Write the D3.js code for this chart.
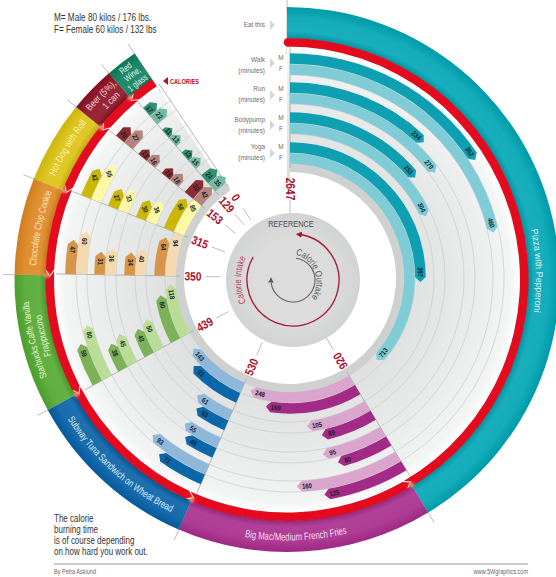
<!DOCTYPE html>
<html>
<head>
<meta charset="utf-8">
<script src="https://cdnjs.cloudflare.com/ajax/libs/d3/7.8.5/d3.min.js"></script>
<style>
  html, body { margin: 0; padding: 0; background: #fff; }
  svg { display: block; }
  text { font-family: 'Liberation Sans', sans-serif; }
</style>
</head>
<body>
<script>
const width = 556,
      height = 577

// data, minutes of exercise
const foods = ['Pizza with Pepperoni', 'Big Mac/Medium French Fries', 'Subway Tuna Sandwich on Wheat Bread',
  'Starbucks Caffe Vanilla Frappuccino', 'Chocolate Chip Cookie', 'Hot Dog with Roll', 'Beer (5%), 1 can', 'Red Wine, 1 glass']
const calories = [2647, 920, 530, 439, 350, 315, 153, 129]
const activities = ['Walk', 'Run', 'Bodypump', 'Yoga']
const walkMale = [352, 125, 71, 59, 47, 42, 20, 17]
const walkFemale = [460, 160, 93, 80, 60, 55, 27, 22]
const runMale = [234, 80, 46, 38, 31, 27, 13, 11]
const runFemale = [270, 95, 55, 45, 36, 33, 16, 13]
const bodypumpMale = [251, 89, 53, 43, 34, 30, 15, 13]
const bodypumpFemale = [304, 105, 61, 50, 40, 36, 18, 15]
const yogaMale = [397, 169, 93, 80, 64, 58, 32, 24]
const yogaFemale = [713, 248, 143, 118, 94, 85, 42, 35]
const minuteRows = [walkMale, walkFemale, runMale, runFemale, bodypumpMale, bodypumpFemale, yogaMale, yogaFemale]

const bandColors = ['#00a5b5', '#a82c8c', '#0560a6', '#52a82f', '#de861f', '#dcc20f', '#8d1022', '#0c7e5c']
const maleColors = ['#0e9fb2', '#a32a86', '#0a67aa', '#7db158', '#d89549', '#cdb706', '#8a2c30', '#2f9072']
const femaleColors = ['#7fccd6', '#d9a5cd', '#8fb7da', '#b9dd96', '#f5d9b1', '#fdf8a6', '#b5837b', '#72baa3']
const bandTextColors = ['#d6f1f3', '#f7dcef', '#dcebf7', '#e4f5d2', '#fde6c4', '#f9f0b0', '#f5d5d5', '#e0f5ec']

// ring and rows are not quite concentric in the original
const ringX = 287, ringY = 279.5
const rowX = 290, rowY = 278
const discX = 293, discY = 280, discR = 67

const rowInner = [214, 203, 185, 174, 155, 144, 125, 114]
const rowWidth = 11
const tipLength = 5

const spoke = d3.scaleOrdinal().domain(calories).range([0, 148.8, 203.4, 241.4, 271, 291.7, 309.3, 319.2])
const lastAngle = 326
const rad = d => d * Math.PI / 180

// minutes -> pixels along the bar, one scale per row
const lengthScales = [1.0, 1.0, 0.98, 0.98, 0.89, 0.89, 0.85, 0.66].map(k =>
  d3.scalePow().exponent(0.92).domain([0, 1]).range([0, k]))

const polar = (cx, cy, r, deg) => [cx + r * Math.sin(rad(deg)), cy - r * Math.cos(rad(deg))]

const svg = d3.select('body').append('svg')
  .attr('width', width)
  .attr('height', height)

const defs = svg.append('defs')
const arc = d3.arc()

let blur = defs.append('filter').attr('id', 'blur').attr('x', '-100%').attr('y', '-100%').attr('width', '300%').attr('height', '300%')
blur.append('feGaussianBlur').attr('stdDeviation', 1.4)

// both gradients sit on paths translated to the ring centre, so they start at 0,0
let bgGrad = defs.append('radialGradient').attr('id', 'bgGrad').attr('gradientUnits', 'userSpaceOnUse')
  .attr('cx', 0).attr('cy', 0).attr('r', 240)
bgGrad.append('stop').attr('offset', 0.45).attr('stop-color', '#dddede')
bgGrad.append('stop').attr('offset', 0.75).attr('stop-color', '#e9eaea')
bgGrad.append('stop').attr('offset', 0.93).attr('stop-color', '#f3f4f4')
bgGrad.append('stop').attr('offset', 0.97).attr('stop-color', '#ffffff')

let sheen = defs.append('radialGradient').attr('id', 'sheen').attr('gradientUnits', 'userSpaceOnUse')
  .attr('cx', 0).attr('cy', 0).attr('r', 272.5)
sheen.append('stop').attr('offset', 0.885).attr('stop-color', '#000').attr('stop-opacity', 0.12)
sheen.append('stop').attr('offset', 0.91).attr('stop-color', '#fff').attr('stop-opacity', 0.1)
sheen.append('stop').attr('offset', 0.96).attr('stop-color', '#fff').attr('stop-opacity', 0.08)
sheen.append('stop').attr('offset', 1).attr('stop-color', '#000').attr('stop-opacity', 0.06)

let discGrad = defs.append('radialGradient').attr('id', 'discGrad')
discGrad.append('stop').attr('offset', 0.6).attr('stop-color', '#dcdcdc')
discGrad.append('stop').attr('offset', 1).attr('stop-color', '#d2d3d3')

// spokes reach past the ring, the part over the ring gets hidden by the bands
const spokeLine = d3.line()
const spokeEnds = calories.map(c => ({ value: c, angle: spoke(c) })).concat([{ value: 0, angle: lastAngle }])

svg.append('g').selectAll('path').data(spokeEnds).join('path')
  .attr('d', d => spokeLine([polar(ringX, ringY, 225, d.angle), polar(ringX, ringY, d.angle === 0 ? 280 : 284, d.angle)]))
  .attr('stroke', '#a9abab').attr('stroke-width', 0.8).attr('fill', 'none')

// grey sector the bars sit on
svg.append('path')
  .attr('transform', `translate(${ringX},${ringY})`)
  .attr('d', arc({ innerRadius: 100, outerRadius: 236, startAngle: 0, endAngle: rad(lastAngle) }))
  .attr('fill', 'url(#bgGrad)')

// faint guide rings between the rows
const guides = svg.append('g').attr('transform', `translate(${rowX},${rowY})`)
rowInner.forEach(r => {
  guides.append('path')
    .attr('d', arc({ innerRadius: r, outerRadius: r, startAngle: rad(0), endAngle: rad(lastAngle) }))
    .attr('fill', 'none').attr('stroke', '#c9caca').attr('stroke-width', 0.4)
})

svg.append('path')
  .attr('transform', `translate(${rowX},${rowY})`)
  .attr('d', arc({ innerRadius: 106, outerRadius: 114, startAngle: 0, endAngle: rad(lastAngle) }))
  .attr('fill', '#cfd0d0')

svg.append('path')
  .attr('transform', `translate(${rowX},${rowY})`)
  .attr('d', arc({ innerRadius: 0, outerRadius: 106, startAngle: 0, endAngle: rad(lastAngle) }))
  .attr('fill', '#fff')

svg.append('g').selectAll('path').data(spokeEnds).join('path')
  .attr('d', d => spokeLine([polar(rowX, rowY, 110, d.angle), polar(rowX, rowY, 234, d.angle)]))
  .attr('stroke', '#a3a5a5').attr('stroke-width', 0.8).attr('fill', 'none')

// one bar for every food and row, drawn clockwise from its spoke
function barPath(r0, r1, a0, sweepPx) {
  let rm = (r0 + r1) / 2
  let a1 = a0 + (sweepPx - tipLength) / rm * 180 / Math.PI
  let aTip = a0 + sweepPx / rm * 180 / Math.PI
  let p = d3.path()
  p.arc(rowX, rowY, r1, rad(a0 - 90), rad(a1 - 90))
  let tip = polar(rowX, rowY, rm, aTip)
  p.lineTo(tip[0], tip[1])
  p.arc(rowX, rowY, r0, rad(a1 - 90), rad(a0 - 90), true)
  p.closePath()
  return p.toString()
}

const labelTilt = { 4: 90, 5: 70, 6: 60, 7: 50 }

const bars = []
minuteRows.forEach((row, j) => {
  row.forEach((minutes, i) => {
    bars.push({ minutes, i, j, r0: rowInner[j], r1: rowInner[j] + rowWidth, px: lengthScales[j](minutes), a0: spoke(calories[i]) })
  })
})

const barG = svg.append('g')
barG.selectAll('path').data(bars).join('path')
  .attr('d', d => barPath(d.r0 + 0.2, d.r1 - 0.2, d.a0, d.px))
  .attr('fill', d => d.j % 2 === 0 ? maleColors[d.i] : femaleColors[d.i])

barG.selectAll('text').data(bars).join('text')
  .attr('transform', d => {
    let rm = (d.r0 + d.r1) / 2
    let a = d.a0 + Math.max(d.px - 10, 4) / rm * 180 / Math.PI
    let p = polar(rowX, rowY, rm, a)
    let rot
    if (d.i === 0) rot = a > 100 ? a - 180 : a
    else if (d.i < 4) rot = a - 180
    else rot = labelTilt[d.i]
    return `translate(${p[0]},${p[1]}) rotate(${rot}) scale(0.85,1)`
  })
  .attr('text-anchor', 'middle')
  .attr('dy', '0.35em')
  .attr('font-size', 7)
  .attr('font-weight', 'bold')
  .attr('fill', '#14242b')
  .text(d => d.minutes)

// outer colour bands
const ends = calories.map((c, i) => i < calories.length - 1 ? spoke(calories[i + 1]) : lastAngle)
const ring = svg.append('g').attr('transform', `translate(${ringX},${ringY})`)

ring.selectAll('.band').data(calories).join('path')
  .attr('class', 'band')
  .attr('d', (c, i) => arc({ innerRadius: 241, outerRadius: 272.5, startAngle: rad(spoke(c)), endAngle: rad(ends[i]) }))
  .attr('fill', (c, i) => bandColors[i])

svg.append('path')
  .attr('transform', `translate(${ringX},${ringY})`)
  .attr('d', arc({ innerRadius: 241, outerRadius: 272.5, startAngle: 0, endAngle: rad(lastAngle) }))
  .attr('fill', 'url(#sheen)')

// red calorie ring, each piece starts in a point and the one before takes it in a notch
function redPath(a0, a1, startPoint, endNotch) {
  const r0 = 233, r1 = 241.5, shoulder = 1.5
  let aStart = startPoint ? a0 + shoulder : a0
  let aEnd = endNotch ? a1 + shoulder - 0.4 : a1
  let p = d3.path()
  p.arc(ringX, ringY, r1, rad(aStart - 90), rad(aEnd - 90))
  if (endNotch) {
    let notch = polar(ringX, ringY, (r0 + r1) / 2, a1 - 0.4)
    p.lineTo(notch[0], notch[1])
  }
  p.arc(ringX, ringY, r0, rad(aEnd - 90), rad(aStart - 90), true)
  if (startPoint) {
    let tip = polar(ringX, ringY, (r0 + r1) / 2, a0)
    p.lineTo(tip[0], tip[1])
  }
  p.closePath()
  return p.toString()
}

svg.append('g').selectAll('path').data(calories).join('path')
  .attr('d', (c, i) => redPath(spoke(c), ends[i], i > 0, i < calories.length - 1))
  .attr('fill', '#e30b1d')

svg.append('circle')
  .attr('cx', ringX + 1).attr('cy', ringY - 237.2).attr('r', 4.3)
  .attr('fill', '#e30b1d')

svg.append('g').selectAll('circle').data(calories.slice(1)).join('circle')
  .attr('cx', c => polar(ringX, ringY, 240, spoke(c))[0])
  .attr('cy', c => polar(ringX, ringY, 240, spoke(c))[1])
  .attr('r', 2.4)
  .attr('fill', '#ffb08a')
  .attr('filter', 'url(#blur)')

// band titles on arcs, up keeps the bottom ones upright, len is the width they fill
const bandLabels = [
  { text: 'Pizza with Pepperoni', r: 249, at: 88, up: false, size: 9.5, len: 83 },
  { text: 'Big Mac/Medium French Fries', r: 261, at: 178, up: true, size: 10.5, len: 103 },
  { text: 'Subway Tuna Sandwich on Wheat Bread', r: 260, at: 222, up: true, size: 10, len: 141 },
  { text: 'Starbucks Caffe Vanilla', r: 259, at: 256.5, up: false, size: 9.5, len: 78 },
  { text: 'Frappuccino', r: 248, at: 257, up: false, size: 9.5, len: 42 },
  { text: 'Chocolate Chip Cookie', r: 251, at: 281.8, up: false, size: 10, len: 76 },
  { text: 'Hot Dog with Roll', r: 254, at: 301, up: false, size: 10, len: 62 },
  { text: 'Beer (5%),', r: 259, at: 314.7, up: false, size: 9.5, len: 38 },
  { text: '1 can', r: 248, at: 315.5, up: false, size: 9.5, len: 20 },
  { text: 'Red', r: 263, at: 322.6, up: false, size: 9, len: 13 },
  { text: 'Wine,', r: 254, at: 323, up: false, size: 9, len: 18 },
  { text: '1 glass', r: 244, at: 322.8, up: false, size: 9, len: 22 }
]
const bandLabelFood = [0, 1, 2, 3, 3, 4, 5, 6, 6, 7, 7, 7]

bandLabels.forEach((d, k) => {
  let span = 40
  let from = polar(ringX, ringY, d.r, d.up ? d.at + span : d.at - span)
  let to = polar(ringX, ringY, d.r, d.up ? d.at - span : d.at + span)
  defs.append('path')
    .attr('id', 'bandPath' + k)
    .attr('d', `M${from[0]},${from[1]} A${d.r},${d.r} 0 0 ${d.up ? 0 : 1} ${to[0]},${to[1]}`)
  svg.append('text')
    .attr('font-size', d.size)
    .attr('fill', bandTextColors[bandLabelFood[k]])
    .append('textPath')
    .attr('href', '#bandPath' + k)
    .attr('startOffset', '50%')
    .attr('text-anchor', 'middle')
    .attr('textLength', d.len)
    .attr('lengthAdjust', 'spacingAndGlyphs')
    .text(d.text)
})

// reference disc
svg.append('circle')
  .attr('cx', discX).attr('cy', discY).attr('r', discR)
  .attr('fill', 'url(#discGrad)')

svg.append('g').selectAll('path').data(spokeEnds).join('path')
  .attr('d', d => spokeLine([polar(rowX, rowY, d.angle === 0 ? 65 : 70, d.angle), polar(rowX, rowY, d.angle === 0 ? 78 : 84, d.angle)]))
  .attr('stroke', '#a9abab').attr('stroke-width', 0.8).attr('fill', 'none')

// calorie numbers on the spokes
svg.append('g').selectAll('text').data(spokeEnds).join('text')
  .attr('transform', d => {
    let p = polar(rowX, rowY, d.angle === 0 ? 89 : 97, d.angle)
    return `translate(${p[0]},${p[1]}) rotate(${d.angle + 90}) scale(0.85,1)`
  })
  .attr('text-anchor', 'middle')
  .attr('dy', '0.35em')
  .attr('font-size', 12)
  .attr('font-weight', 'bold')
  .attr('fill', '#a8122c')
  .text(d => d.value)

svg.append('text')
  .attr('transform', 'translate(291,227) scale(0.82,1)')
  .attr('text-anchor', 'middle')
  .attr('font-size', 9)
  .attr('fill', '#4a4c4e')
  .text('REFERENCE')

defs.append('marker').attr('id', 'redHead')
  .attr('viewBox', '0 0 6 6').attr('refX', 4).attr('refY', 3)
  .attr('markerWidth', 6).attr('markerHeight', 6)
  .attr('markerUnits', 'userSpaceOnUse').attr('orient', 'auto')
  .append('path').attr('d', 'M0,0 L6,3 L0,6 Z').attr('fill', '#a8122c')
defs.append('marker').attr('id', 'greyHead')
  .attr('viewBox', '0 0 6 6').attr('refX', 4).attr('refY', 3)
  .attr('markerWidth', 6).attr('markerHeight', 6)
  .attr('markerUnits', 'userSpaceOnUse').attr('orient', 'auto')
  .append('path').attr('d', 'M0,0 L6,3 L0,6 L1.5,3 Z').attr('fill', '#555')

function cycle(r, from, to, sweep) {
  let a = polar(discX, discY, r, from), b = polar(discX, discY, r, to)
  return `M${a[0]},${a[1]} A${r},${r} 0 1 ${sweep} ${b[0]},${b[1]}`
}

svg.append('path')
  .attr('d', cycle(46, 300, 6, 0))
  .attr('fill', 'none').attr('stroke', '#a8122c').attr('stroke-width', 1.3)
  .attr('marker-end', 'url(#redHead)')

svg.append('path')
  .attr('d', cycle(22, 8, 272, 1))
  .attr('fill', 'none').attr('stroke', '#606264').attr('stroke-width', 1.1)
  .attr('marker-end', 'url(#greyHead)')

defs.append('path').attr('id', 'intakePath')
  .attr('d', `M${polar(discX, discY, 52, 220)} A52,52 0 0 1 ${polar(discX, discY, 52, 320)}`)
defs.append('path').attr('id', 'outtakePath')
  .attr('d', `M${polar(discX, discY, 28, 335)} A28,28 0 0 1 ${polar(discX, discY, 28, 165)}`)

svg.append('text').attr('font-size', 9.5).attr('fill', '#b2435b')
  .append('textPath').attr('href', '#intakePath').attr('startOffset', '50%').attr('text-anchor', 'middle')
  .attr('textLength', 46).attr('lengthAdjust', 'spacingAndGlyphs')
  .text('Calorie Intake')
svg.append('text').attr('font-size', 9.5).attr('fill', '#55585a')
  .append('textPath').attr('href', '#outtakePath').attr('startOffset', '50%').attr('text-anchor', 'middle')
  .attr('textLength', 54).attr('lengthAdjust', 'spacingAndGlyphs')
  .text('Calorie Outtake')

// row legend in the open slice, all text squeezed to the condensed look of the original
const legend = svg.append('g').attr('fill', '#6c6e70').attr('font-size', 8)
const legendY = [60, 89, 120, 147]
const legendMF = [[58, 69], [89, 100], [118, 129], [147, 158]]
const squeezed = (x, y, k) => `translate(${x},${y}) scale(${k},1)`

legend.append('text').attr('transform', squeezed(265, 27, 0.8)).attr('text-anchor', 'end').text('Eat this')
activities.forEach((a, i) => {
  legend.append('text').attr('transform', squeezed(265, legendY[i] + 2, 0.8)).attr('text-anchor', 'end').text(a)
  legend.append('text').attr('transform', squeezed(265, legendY[i] + 13, 0.8)).attr('text-anchor', 'end').text('(minutes)')
  legend.append('text').attr('x', 281).attr('y', legendMF[i][0] + 2).attr('text-anchor', 'middle').attr('font-size', 6.5).text('M')
  legend.append('text').attr('x', 281).attr('y', legendMF[i][1] + 2).attr('text-anchor', 'middle').attr('font-size', 6.5).text('F')
})
const triangleY = [25, 63, 95, 125, 153]
svg.append('g').selectAll('path').data(triangleY).join('path')
  .attr('transform', d => `translate(270,${d})`)
  .attr('d', 'M0,-5 L5,0 L0,5 Z')
  .attr('fill', '#d6d7d8')

// notes
svg.append('path').attr('d', 'M163,81 L168,77 L168,85 Z').attr('fill', '#b7102c')
svg.append('text')
  .attr('transform', squeezed(170, 84, 0.8))
  .attr('font-size', 7).attr('font-weight', 'bold').attr('fill', '#b7102c')
  .text('CALORIES')

const topNote = ['M= Male 80 kilos / 176 lbs.', 'F= Female 60 kilos / 132 lbs']
svg.append('g').selectAll('text').data(topNote).join('text')
  .attr('transform', (d, i) => squeezed(54, 21 + i * 12, 0.82))
  .attr('font-size', 10).attr('fill', '#333')
  .text(d => d)

const bottomNote = ['The calorie', 'burning time', 'is of course depending', 'on how hard you work out.']
svg.append('g').selectAll('text').data(bottomNote).join('text')
  .attr('transform', (d, i) => squeezed(54, 522 + i * 11, 0.8))
  .attr('font-size', 10).attr('fill', '#333')
  .text(d => d)

svg.append('line')
  .attr('x1', 54).attr('x2', 528).attr('y1', 564).attr('y2', 564)
  .attr('stroke', '#9a9a9a').attr('stroke-width', 1)

svg.append('text').attr('transform', squeezed(54, 574, 0.85))
  .attr('font-size', 6.5).attr('fill', '#666').text('By Petra Asklund')
svg.append('text').attr('transform', squeezed(528, 574, 0.85)).attr('text-anchor', 'end')
  .attr('font-size', 6.5).attr('fill', '#666').text('www.5Wgraphics.com')
</script>
</body>
</html>
